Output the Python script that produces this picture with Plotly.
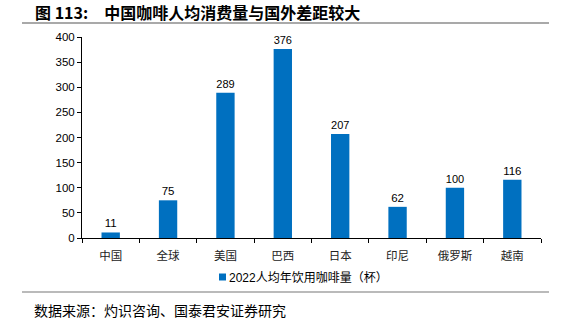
import plotly.graph_objects as go

categories = ["中国", "全球", "美国", "巴西", "日本", "印尼", "俄罗斯", "越南"]
cups_per_capita = [11, 75, 289, 376, 207, 62, 100, 116]
series_name = "2022人均年饮用咖啡量（杯）"
y_ticks = [0, 50, 100, 150, 200, 250, 300, 350, 400]

W, H = 570, 332
L, R, T, B = 82, 29, 37, 94
pw, ph = W - L - R, H - T - B

def px_x(x):
    return (x - L) / pw

def px_y(y):
    return (H - B - y) / ph

bar_color = "#0070C0"

fig = go.Figure()
fig.add_trace(go.Bar(
    x=categories,
    y=cups_per_capita,
    name=series_name,
    marker=dict(color=bar_color, line=dict(width=0)),
    width=0.32,
    text=[str(v) for v in cups_per_capita],
    textposition="outside",
    textfont=dict(size=11.5, color="#000000", family="Liberation Sans, Arial"),
    cliponaxis=False,
    showlegend=False,
))

fig.update_layout(
    width=W, height=H,
    margin=dict(l=L, r=R, t=T, b=B),
    paper_bgcolor="white",
    plot_bgcolor="white",
    font=dict(family="Liberation Sans, Arial", size=11, color="#000000"),
    showlegend=False,
)

fig.update_xaxes(
    type="category",
    showline=True, linecolor="#000000", linewidth=1,
    ticks="outside", ticklen=4, tickcolor="#000000",
    tickson="boundaries",
    ticklabelstandoff=7,
    showgrid=False,
    tickfont=dict(size=11.5, family="Noto Sans CJK SC", color="#222222"),
)
fig.update_yaxes(
    range=[0, 400],
    tickvals=y_ticks,
    showline=True, linecolor="#000000", linewidth=1,
    ticks="outside", ticklen=4, tickcolor="#000000",
    showgrid=False, zeroline=False,
    tickfont=dict(size=11.5, family="Liberation Sans, Arial", color="#000000"),
)

# series key below the axis: swatch plus label
fig.add_shape(type="rect", xref="paper", yref="paper",
              x0=px_x(219), x1=px_x(226), y0=px_y(280.5), y1=px_y(273.5),
              fillcolor=bar_color, line=dict(width=0))
fig.add_annotation(
    text=series_name,
    xref="paper", yref="paper",
    x=px_x(227), y=px_y(277), xanchor="left", yanchor="middle",
    showarrow=False,
    font=dict(size=12, family="Liberation Sans, Noto Sans CJK SC", color="#000000"),
)

# heading and rule beneath it
fig.add_annotation(
    text="<b>图 113:\u3000中国咖啡人均消费量与国外差距较大</b>",
    xref="paper", yref="paper",
    x=px_x(33), y=px_y(12), xanchor="left", yanchor="middle",
    showarrow=False,
    font=dict(size=16, family="Noto Sans CJK SC", color="#000000"),
)
fig.add_shape(type="line", xref="paper", yref="paper",
              x0=px_x(22), x1=px_x(549), y0=px_y(23), y1=px_y(23),
              line=dict(color="#555555", width=1.2))

# source footer
fig.add_shape(type="line", xref="paper", yref="paper",
              x0=px_x(22), x1=px_x(549), y0=px_y(292), y1=px_y(292),
              line=dict(color="#777777", width=1.2))
fig.add_annotation(
    text="数据来源：灼识咨询、国泰君安证券研究",
    xref="paper", yref="paper",
    x=px_x(32), y=px_y(310), xanchor="left", yanchor="middle",
    showarrow=False,
    font=dict(size=14, family="Noto Sans CJK SC", color="#000000"),
)

fig.write_html("out.html")
